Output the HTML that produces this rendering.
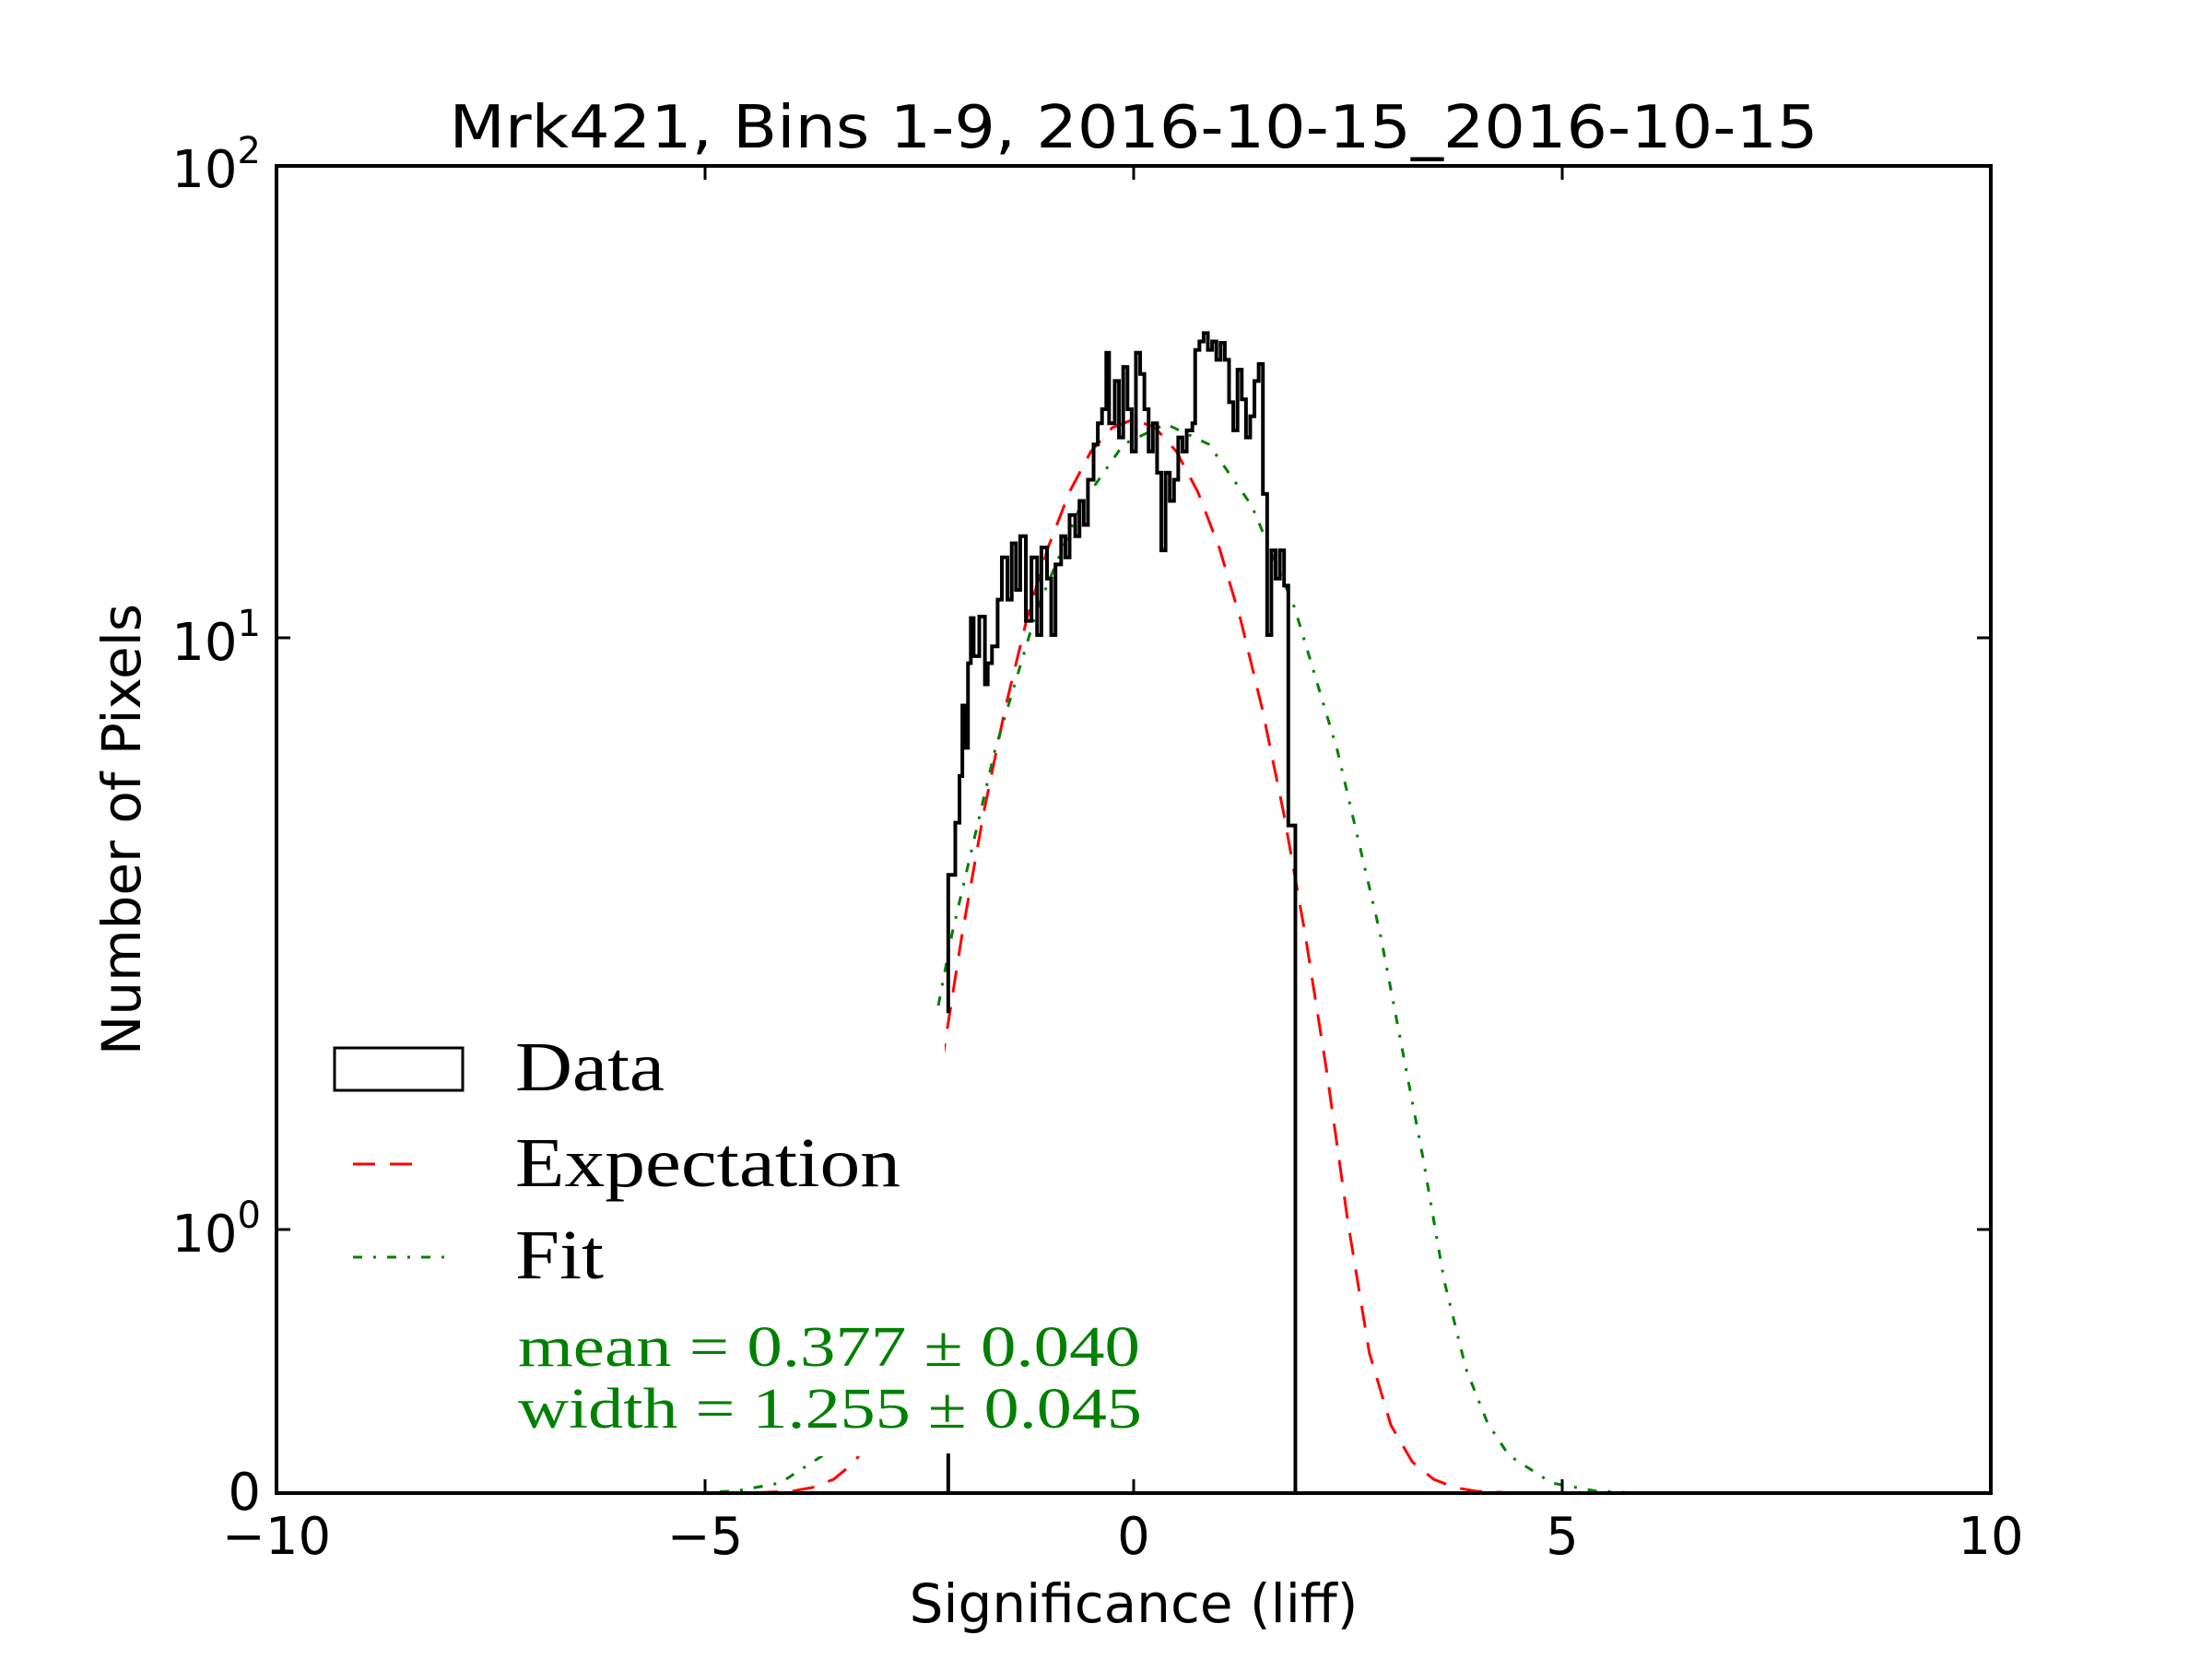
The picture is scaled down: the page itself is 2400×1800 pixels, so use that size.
<!DOCTYPE html>
<html><head><meta charset="utf-8"><style>html,body{margin:0;padding:0;background:#fff}svg{display:block}</style></head><body>
<svg width="2400" height="1800" viewBox="0 0 2400 1800" xmlns="http://www.w3.org/2000/svg" font-family="DejaVu Sans, Liberation Sans, sans-serif">
<rect width="2400" height="1800" fill="#fff"/>
<!-- Expectation -->
<path fill="none" stroke="#ff0000" stroke-width="3" stroke-dasharray="24 16" d="M300 1620 L811.5 1620 L858 1618 L881.25 1614 L904.5 1605 L927.75 1586 L951 1546 L974.25 1468 L997.5 1326 L1020.75 1161 L1044 1013 L1067.25 882 L1090.5 769 L1113.75 673 L1137 594.5 L1160.25 534 L1183.5 490 L1206.75 464 L1230 455 L1253.25 464 L1276.5 490 L1299.75 534 L1323 594.5 L1346.25 673 L1369.5 769 L1392.75 882 L1416 1013 L1439.25 1161 L1462.5 1326 L1485.75 1468 L1509 1546 L1532.25 1586 L1555.5 1605 L1578.75 1614 L1602 1618 L1648.5 1620 L2160 1620"/>
<!-- Fit -->
<path fill="none" stroke="#008000" stroke-width="3" stroke-dasharray="10 12 3 12" d="M300 1620 L753.5 1620 L800 1617.5 L846.5 1609 L893 1579 L916 1544 L939.5 1485 L963 1390 L972.8 1334 L986.5 1256.5 L1033 1013 L1079.5 814 L1126 659 L1172.5 548.5 L1219 482 L1265 460 L1311.5 482 L1358 548.5 L1404.5 659 L1451 814 L1497.5 1013 L1544 1256.5 L1557.3 1334 L1567 1390 L1590.5 1485 L1614 1544 L1637 1579 L1683.5 1609 L1730 1617.5 L1776.5 1620 L2160 1620"/>
<g transform="scale(1.531)" fill="none" stroke="#000" stroke-width="2.6">
<path d="M672 718 L672 620 L677 620 L677 583 L680 583 L680 550 L682 550 L682 500 L684 500 L684 530 L686 530 L686 470 L688 470 L688 438 L690 438 L690 465 L694 465 L694 437 L698 437 L698 485 L700 485 L700 470 L703 470 L703 458 L707 458 L707 425 L710 425 L710 395 L714 395 L714 425 L717 425 L717 385 L720 385 L720 418 L723 418 L723 380 L727 380 L727 440 L731 440 L731 395 L735 395 L735 450 L738 450 L738 388 L742 388 L742 410 L745 410 L745 450 L748 450 L748 400 L752 400 L752 380 L755 380 L755 395 L758 395 L758 365 L762 365 L762 380 L765 380 L765 355 L768 355 L768 372 L771 372 L771 340 L775 340 L775 315 L778 315 L778 300 L781 300 L781 290 L784 290 L784 250 L786 250 L786 300 L790 300 L790 270 L793 270 L793 310 L796 310 L796 260 L799 260 L799 290 L802 290 L802 320 L805 320 L805 250 L808 250 L808 265 L811 265 L811 290 L814 290 L814 320 L817 320 L817 300 L820 300 L820 335 L823 335 L823 390 L826 390 L826 335 L829 335 L829 355 L832 355 L832 340 L835 340 L835 310 L838 310 L838 320 L841 320 L841 305 L845 305 L845 300 L847 300 L847 248 L850 248 L850 242 L853 242 L853 236 L856 236 L856 248 L859 248 L859 242 L862 242 L862 255 L865 255 L865 243 L868 243 L868 255 L871 255 L871 285 L874 285 L874 305 L877 305 L877 262 L880 262 L880 283 L883 283 L883 310 L886 310 L886 295 L889 295 L889 270 L892 270 L892 258 L895 258 L895 350 L898 350 L898 450 L901 450 L901 390 L904 390 L904 410 L907 410 L907 390 L910 390 L910 415 L913 415 L913 585 L918 585 L918 1057"/>
<line x1="672" y1="1030" x2="672" y2="1057"/>
</g>
<!-- legend background -->
<rect x="349" y="1102" width="676" height="478" fill="#fff"/>
<rect x="363" y="1137" width="139" height="46" fill="none" stroke="#000" stroke-width="3"/>
<line x1="383" y1="1263" x2="462" y2="1263" stroke="#ff0000" stroke-width="3" stroke-dasharray="24 16"/>
<line x1="383" y1="1364" x2="485" y2="1364" stroke="#008000" stroke-width="3" stroke-dasharray="10 12 3 12"/>
<g font-family="Liberation Serif, DejaVu Serif, serif" font-size="76" fill="#000">
<text x="559" y="1183" textLength="162" lengthAdjust="spacingAndGlyphs">Data</text>
<text x="559" y="1287" textLength="418" lengthAdjust="spacingAndGlyphs">Expectation</text>
<text x="559" y="1387" textLength="96" lengthAdjust="spacingAndGlyphs">Fit</text>
</g>
<g font-family="Liberation Serif, DejaVu Serif, serif" font-size="62" fill="#008000">
<text x="562" y="1482" textLength="675" lengthAdjust="spacingAndGlyphs">mean = 0.377 ± 0.040</text>
<text x="562" y="1549" textLength="677" lengthAdjust="spacingAndGlyphs">width = 1.255 ± 0.045</text>
</g>
<!-- axes -->
<rect x="300" y="180" width="1860" height="1440" fill="none" stroke="#000" stroke-width="4"/>
<g stroke="#000" stroke-width="3">
<line x1="765" y1="1620" x2="765" y2="1605"/><line x1="1230" y1="1620" x2="1230" y2="1605"/><line x1="1695" y1="1620" x2="1695" y2="1605"/>
<line x1="765" y1="180" x2="765" y2="195"/><line x1="1230" y1="180" x2="1230" y2="195"/><line x1="1695" y1="180" x2="1695" y2="195"/>
<line x1="300" y1="692" x2="315" y2="692"/><line x1="300" y1="1334" x2="315" y2="1334"/>
<line x1="2160" y1="692" x2="2145" y2="692"/><line x1="2160" y1="1334" x2="2145" y2="1334"/>
</g>
<g font-size="56" fill="#000">
<text x="1230" y="160" text-anchor="middle" font-size="64" textLength="1485" lengthAdjust="spacingAndGlyphs">Mrk421, Bins 1-9, 2016-10-15_2016-10-15</text>
<text x="300" y="1686" text-anchor="middle">−10</text>
<text x="765" y="1686" text-anchor="middle">−5</text>
<text x="1230" y="1686" text-anchor="middle">0</text>
<text x="1695" y="1686" text-anchor="middle">5</text>
<text x="2160" y="1686" text-anchor="middle">10</text>
<text x="283" y="203" text-anchor="end">10<tspan font-size="40" dy="-26">2</tspan></text>
<text x="283" y="716" text-anchor="end">10<tspan font-size="40" dy="-26">1</tspan></text>
<text x="283" y="1358" text-anchor="end">10<tspan font-size="40" dy="-26">0</tspan></text>
<text x="283" y="1638" text-anchor="end">0</text>
<text x="1230" y="1760" text-anchor="middle" font-size="58">Significance (liff)</text>
<text transform="translate(152,900) rotate(-90)" text-anchor="middle" font-size="58">Number of Pixels</text>
</g>
</svg>
</body></html>
